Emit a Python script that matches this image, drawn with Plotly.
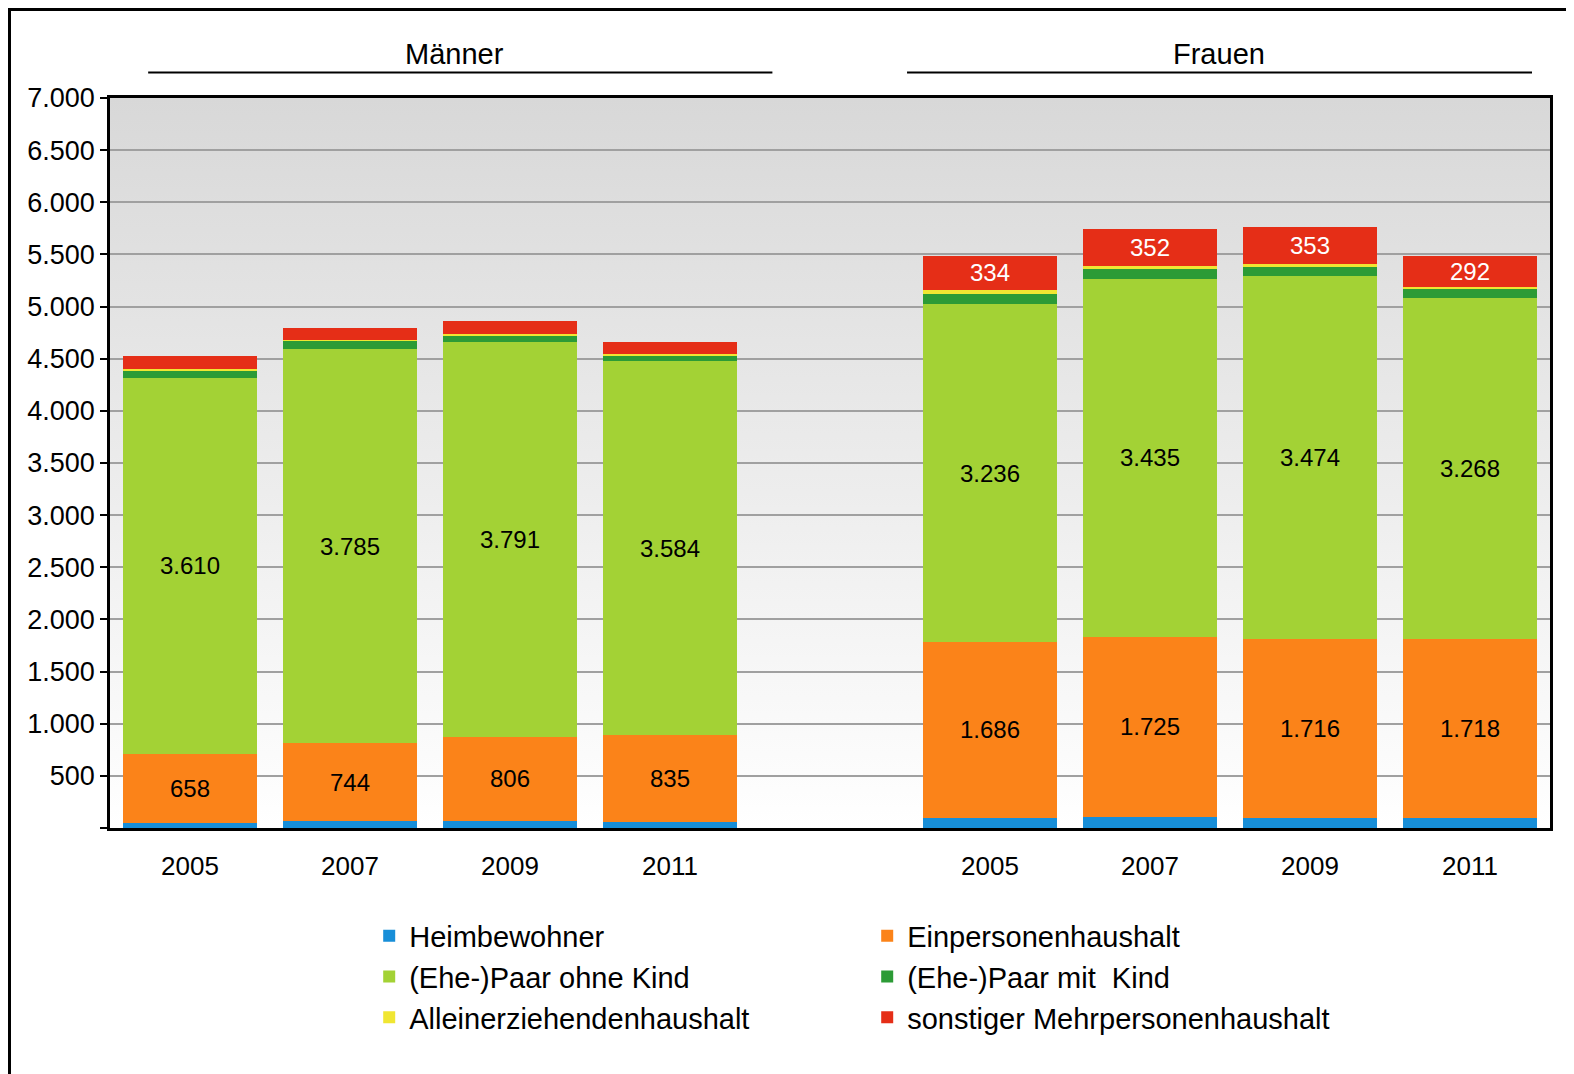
import base64
import plotly.graph_objects as go

# ---------------- data ----------------
years = ["2005", "2007", "2009", "2011"]
groups = ["Männer", "Frauen"]

series_names = [
    "Heimbewohner",
    "Einpersonenhaushalt",
    "(Ehe-)Paar ohne Kind",
    "(Ehe-)Paar mit  Kind",
    "Alleinerziehendenhaushalt",
    "sonstiger Mehrpersonenhaushalt",
]

heim_m = [51, 67, 67, 55]
heim_f = [99, 108, 99, 99]
ein_m = [658, 744, 806, 835]
ein_f = [1686, 1725, 1716, 1718]
ohne_m = [3610, 3785, 3791, 3584]
ohne_f = [3236, 3435, 3474, 3268]
mit_m = [70, 77, 58, 52]
mit_f = [96, 96, 86, 86]
allein_m = [12, 3, 19, 19]
allein_f = [38, 29, 38, 19]
sonst_m = [128, 115, 125, 118]
sonst_f = [334, 352, 353, 292]

y_tickvals = [0, 500, 1000, 1500, 2000, 2500, 3000, 3500, 4000, 4500, 5000, 5500, 6000, 6500, 7000]
y_ticktext = ["", "500", "1.000", "1.500", "2.000", "2.500", "3.000", "3.500", "4.000",
              "4.500", "5.000", "5.500", "6.000", "6.500", "7.000"]

# which series carry value labels (men, women)
labelled = {
    "Einpersonenhaushalt": (True, True),
    "(Ehe-)Paar ohne Kind": (True, True),
    "sonstiger Mehrpersonenhaushalt": (False, True),
}

colors = ["#178ed8", "#fb8319", "#a3d235", "#2c9b36", "#f0e632", "#e52e17"]
label_colors = ["black", "black", "black", "black", "black", "white"]

values = [
    (heim_m, heim_f),
    (ein_m, ein_f),
    (ohne_m, ohne_f),
    (mit_m, mit_f),
    (allein_m, allein_f),
    (sonst_m, sonst_f),
]

# slot positions: 4 men, one empty slot, 4 women
x_pos = list(range(len(years))) + [i + len(years) + 1 for i in range(len(years))]
x_text = years + years

FONT = "Liberation Sans, Arial, sans-serif"


def fmt(v):
    return f"{v:,}".replace(",", ".")


fig = go.Figure()
for name, (vm, vf), col, lcol in zip(series_names, values, colors, label_colors):
    lm, lf = labelled.get(name, (False, False))
    txt = [fmt(v) if lm else "" for v in vm] + [fmt(v) if lf else "" for v in vf]
    fig.add_trace(go.Bar(
        x=x_pos,
        y=vm + vf,
        name=name,
        marker=dict(color=col, line=dict(width=0)),
        text=txt,
        textposition="inside",
        insidetextanchor="middle",
        textangle=0,
        textfont=dict(family=FONT, size=24, color=lcol),
        hoverinfo="name+y",
    ))

# gradient background for the plot area
svg = (
    "<svg xmlns='http://www.w3.org/2000/svg' width='100' height='100' preserveAspectRatio='none'>"
    "<defs><linearGradient id='g' x1='0' y1='0' x2='0' y2='1'>"
    "<stop offset='0' stop-color='#d8d8d8'/><stop offset='1' stop-color='#ffffff'/>"
    "</linearGradient></defs><rect width='100' height='100' fill='url(#g)'/></svg>"
)
svg_uri = "data:image/svg+xml;base64," + base64.b64encode(svg.encode()).decode()

# the page body adds an 8px offset, so the figure is 8px smaller and margins shifted
fig.update_layout(
    width=1566,
    height=1066,
    margin=dict(l=102, r=24, t=90, b=246),
    barmode="stack",
    bargap=0.16,
    separators=",.",
    paper_bgcolor="white",
    plot_bgcolor="rgba(0,0,0,0)",
    font=dict(family=FONT, color="black"),
    uniformtext=dict(minsize=24, mode="show"),
    images=[dict(source=svg_uri, xref="paper", yref="paper", x=0, y=1,
                 sizex=1, sizey=1, sizing="stretch", xanchor="left", yanchor="top",
                 layer="below")],
    legend=dict(
        orientation="h",
        traceorder="normal",
        entrywidth=453,
        entrywidthmode="pixels",
        x=0.18, xanchor="left",
        y=-0.113, yanchor="top",
        font=dict(family=FONT, size=29, color="black"),
        bgcolor="rgba(0,0,0,0)",
    ),
    showlegend=True,
)

fig.update_xaxes(
    range=[-0.5, len(x_pos) + 0.5],
    tickvals=x_pos,
    ticktext=x_text,
    tickfont=dict(family=FONT, size=26, color="black"),
    ticks="",
    ticklabelstandoff=13,
    showgrid=False,
    showline=True,
    linecolor="black",
    linewidth=2.5,
    mirror=True,
    zeroline=False,
)
fig.update_yaxes(
    range=[0, 7000],
    tickvals=y_tickvals,
    ticktext=y_ticktext,
    tickfont=dict(family=FONT, size=27, color="black"),
    ticks="outside",
    ticklen=7,
    tickwidth=1.5,
    tickcolor="black",
    showgrid=True,
    gridcolor="#a0a0a0",
    gridwidth=2,
    showline=True,
    linecolor="black",
    linewidth=2.5,
    mirror=True,
    zeroline=False,
)

# group headers with rules beneath
group_centers = [0.2395, 0.770]
group_lines = [(0.0265, 0.460), (0.5535, 0.9875)]
for g, cx, (x0, x1) in zip(groups, group_centers, group_lines):
    fig.add_annotation(text=g, xref="paper", yref="paper", x=cx, y=1.060,
                       showarrow=False, font=dict(family=FONT, size=29, color="black"),
                       xanchor="center", yanchor="middle")
    fig.add_shape(type="line", xref="paper", yref="paper", x0=x0, x1=x1, y0=1.035, y1=1.035,
                  line=dict(color="black", width=2))

# outer frame of the whole graphic
fig.add_shape(type="rect", xref="paper", yref="paper",
              x0=(9.5 - 110) / 1440, x1=(1600 - 110) / 1440,
              y0=(828 - 1100) / 730, y1=(828 - 9.5) / 730,
              line=dict(color="black", width=3), fillcolor="rgba(0,0,0,0)")

fig.write_html("out.html")
